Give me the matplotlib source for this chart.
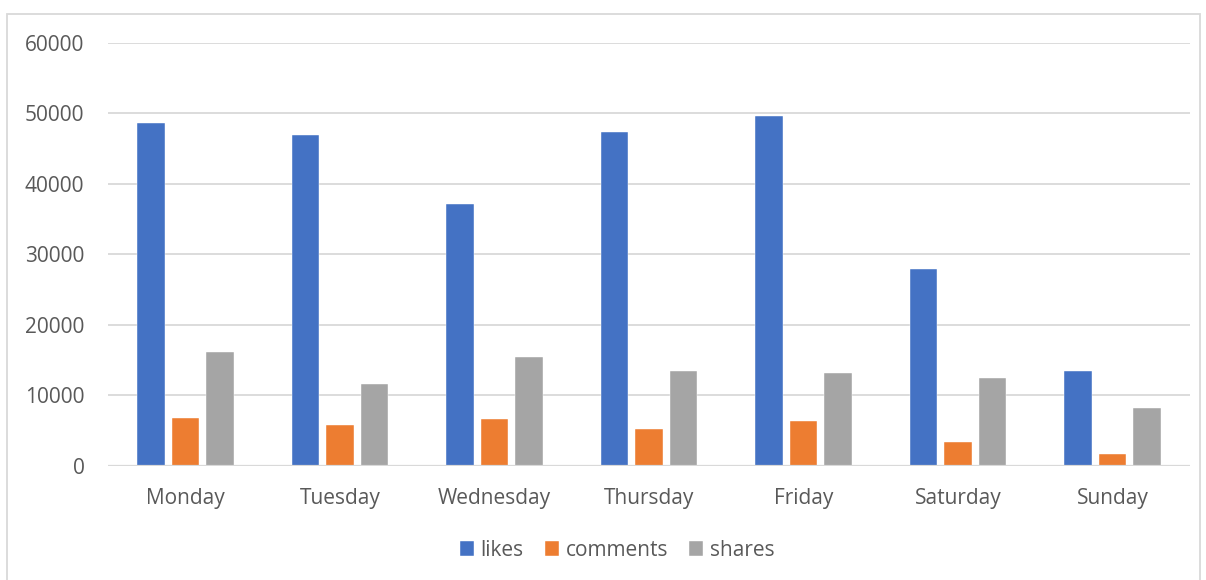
import numpy as np
import matplotlib.pyplot as plt
from matplotlib.patches import Rectangle

days = ['Monday', 'Tuesday', 'Wednesday', 'Thursday', 'Friday', 'Saturday', 'Sunday']
likes = [48600, 46900, 37200, 47400, 49600, 27900, 13500]
comments = [6700, 5800, 6600, 5200, 6300, 3300, 1700]
shares = [16100, 11600, 15500, 13500, 13100, 12400, 8200]
yticks = [0, 10000, 20000, 30000, 40000, 50000, 60000]

plt.rcParams['font.family'] = ['Open Sans', 'DejaVu Sans']
text_color = '#595959'

fig = plt.figure(figsize=(12.06, 5.8), dpi=100)
ax = fig.add_axes([108 / 1206, 1 - 465.7 / 580, (1190 - 108) / 1206, (465.7 - 43) / 580])

x = np.arange(len(days))
w = 0.178
step = 0.223
series = [(likes, '#4472C4', 'likes'), (comments, '#ED7D31', 'comments'), (shares, '#A5A5A5', 'shares')]
for i, (vals, col, name) in enumerate(series):
    ax.bar(x + (i - 1) * step, vals, width=w, color=col, label=name, zorder=3,
           edgecolor='white', linewidth=0.3)

ax.set_xlim(-0.5, len(days) - 0.5)
ax.set_ylim(0, 60000)
ax.set_yticks(yticks)
ax.set_yticklabels([str(v) for v in yticks])
ax.set_xticks(x)
ax.set_xticklabels(days)
ax.tick_params(length=0, labelsize=15, colors=text_color)
ax.tick_params(axis='y', pad=17)
ax.tick_params(axis='x', pad=16)
ax.yaxis.grid(True, color='#D9D9D9', linewidth=1.3, zorder=0)
ax.set_axisbelow(True)
for s in ax.spines.values():
    s.set_visible(False)
ax.axhline(0, color='#D9D9D9', linewidth=1.6, zorder=4)

# chart frame
fig.patches.append(Rectangle((7 / 1206, -0.1), (1200 - 7) / 1206, 1.1 - 14 / 580,
                             transform=fig.transFigure, fill=False,
                             edgecolor='#D9D9D9', linewidth=1.3))

fig.legend(loc='center', bbox_to_anchor=(617 / 1206, 1 - 550 / 580), ncol=3,
           frameon=False, fontsize=15, labelcolor=text_color,
           handlelength=0.7, handleheight=0.7, handletextpad=0.3, columnspacing=1.0)

fig.savefig('out.png', dpi=100)
